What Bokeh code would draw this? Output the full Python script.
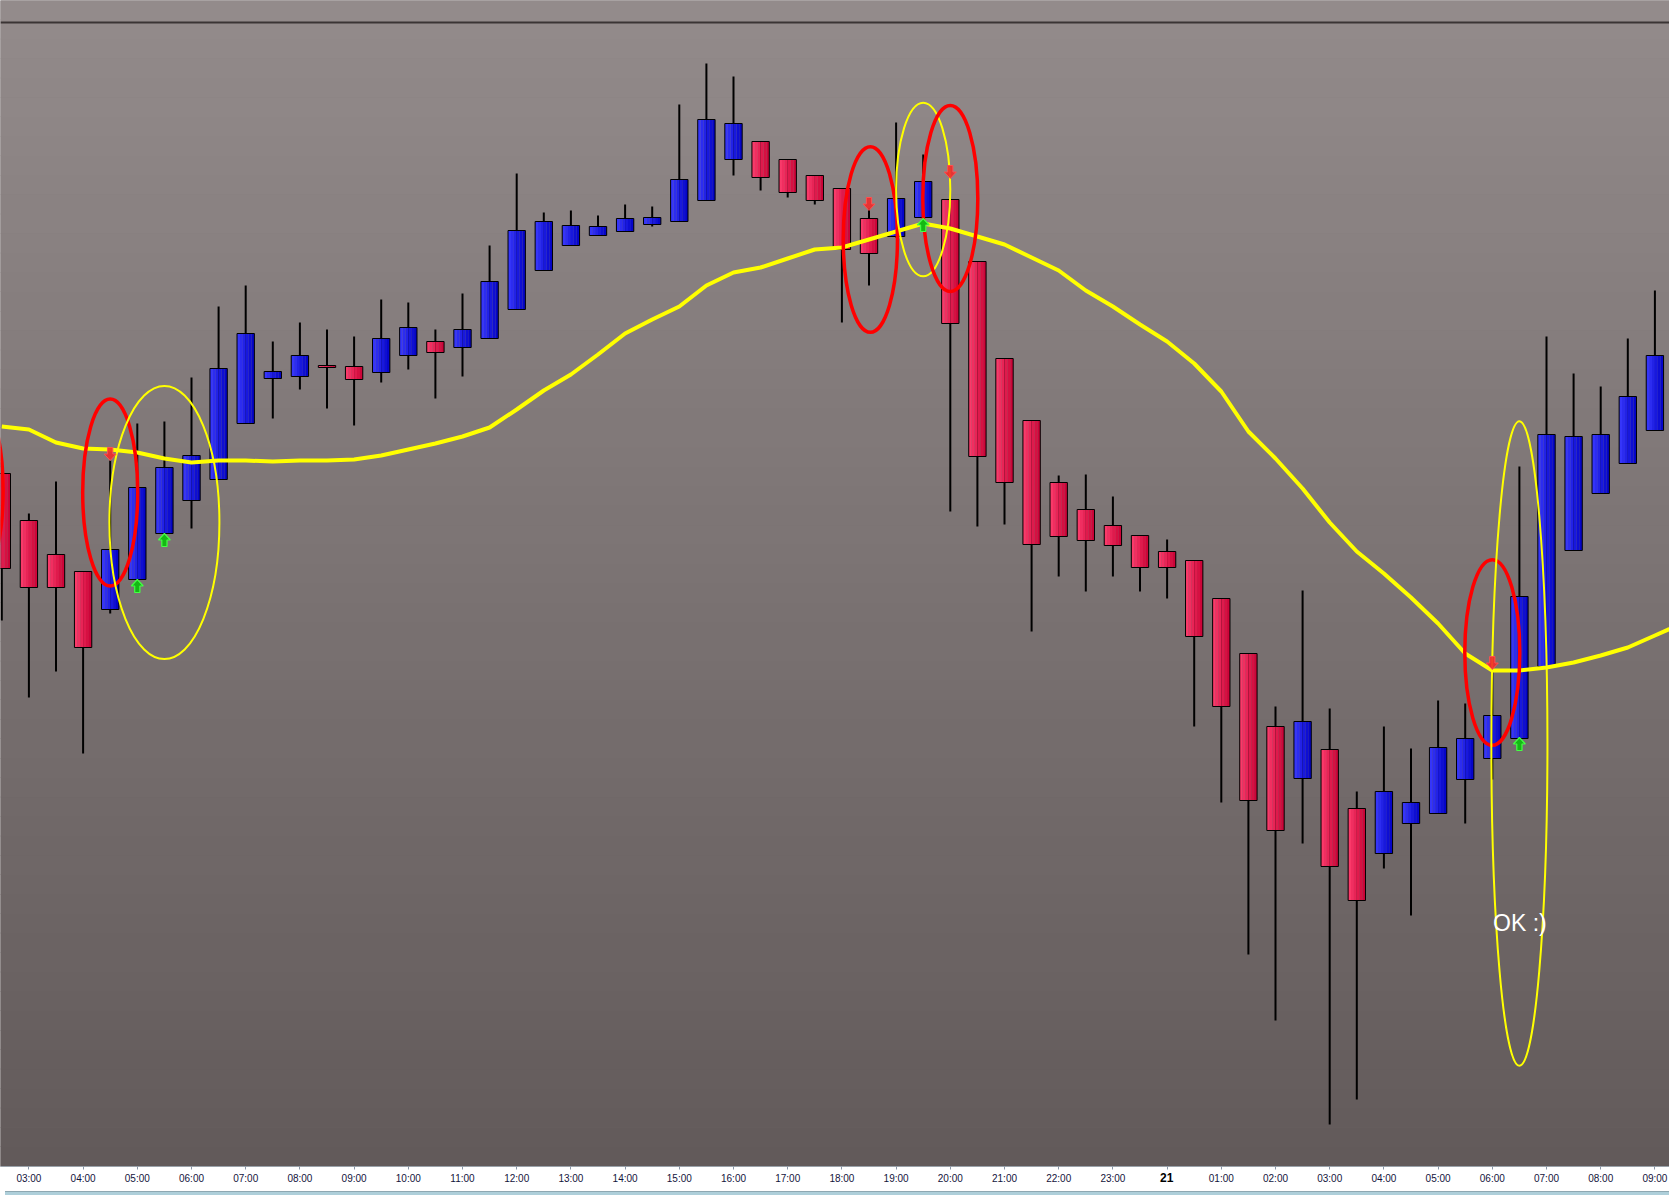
import numpy as np
from bokeh.plotting import figure
from bokeh.models import Range1d, FixedTicker, Label, Span, Div
from bokeh.layouts import column
from bokeh.embed import file_html
from bokeh.resources import INLINE

# 30-minute candles from the 20th 02:30 to the 21st 09:00 (index 0..61)
opens = [2127, 2080, 2046, 2029, 1991, 2021, 2067, 2100, 2121, 2177,
         2222, 2224, 2235, 2234, 2228, 2245, 2259, 2253, 2262, 2291,
         2330, 2355, 2365, 2369, 2376, 2379, 2400, 2441, 2459, 2441,
         2425, 2412, 2382, 2364, 2383, 2401, 2339, 2242, 2180, 2118,
         2091, 2075, 2065, 2049, 2040, 2002, 1947, 1874, 1822, 1851,
         1792, 1747, 1777, 1787, 1821, 1842, 1862, 1934, 2050, 2107,
         2137, 2170]
highs = [2138, 2087, 2119, 2029, 2140, 2177, 2179, 2223, 2294, 2315,
         2259, 2278, 2271, 2264, 2301, 2298, 2271, 2307, 2355, 2427,
         2388, 2390, 2385, 2396, 2394, 2496, 2537, 2524, 2459, 2441,
         2425, 2412, 2392, 2478, 2446, 2401, 2339, 2242, 2180, 2125,
         2126, 2104, 2065, 2061, 2040, 2002, 1947, 1894, 2010, 1892,
         1809, 1874, 1852, 1900, 1897, 1930, 2134, 2264, 2227, 2214,
         2262, 2310]
lows = [1980, 1903, 1929, 1847, 1987, 2019, 2065, 2072, 2121, 2177,
        2182, 2211, 2192, 2175, 2218, 2231, 2202, 2224, 2262, 2291,
        2330, 2355, 2365, 2369, 2374, 2379, 2400, 2425, 2410, 2403,
        2396, 2278, 2315, 2363, 2383, 2089, 2074, 2076, 1969, 2024,
        2009, 2024, 2009, 2002, 1874, 1798, 1646, 1580, 1757, 1476,
        1501, 1732, 1685, 1787, 1777, 1821, 1862, 1934, 2050, 2107,
        2137, 2170]
closes = [2032, 2013, 2013, 1953, 2051, 2113, 2133, 2145, 2232, 2267,
          2229, 2245, 2233, 2221, 2262, 2273, 2248, 2271, 2319, 2370,
          2379, 2375, 2374, 2382, 2383, 2421, 2481, 2477, 2423, 2408,
          2400, 2351, 2347, 2402, 2419, 2277, 2144, 2118, 2056, 2064,
          2060, 2055, 2033, 2033, 1964, 1894, 1800, 1770, 1879, 1734,
          1700, 1809, 1798, 1853, 1862, 1885, 2004, 2166, 2164, 2166,
          2204, 2245]

# moving average (one extra point just past the right edge)
ma = [2174, 2171, 2158, 2152, 2151, 2148, 2142, 2138, 2140, 2140,
      2139, 2140, 2140, 2141, 2145, 2151, 2157, 2164, 2173, 2191,
      2210, 2226, 2246, 2267, 2281, 2294, 2315, 2328, 2333, 2342,
      2351, 2353, 2361, 2369, 2377, 2372, 2364, 2356, 2343, 2330,
      2310, 2294, 2276, 2259, 2237, 2209, 2169, 2142, 2112, 2078,
      2049, 2027, 2003, 1977, 1947, 1930, 1930, 1933, 1938, 1945,
      1953, 1965, 1977]

# hourly ticks
tick_pos = list(range(1, 62, 2))
tick_labels = ["03:00", "04:00", "05:00", "06:00", "07:00", "08:00", "09:00",
               "10:00", "11:00", "12:00", "13:00", "14:00", "15:00", "16:00",
               "17:00", "18:00", "19:00", "20:00", "21:00", "22:00", "23:00",
               "21", "01:00", "02:00", "03:00", "04:00", "05:00", "06:00",
               "07:00", "08:00", "09:00"]
day_label = "21"

# signal arrows (candle index, price of arrow tip)
sell_idx = [4, 32, 35, 55]
sell_lvl = [2140, 2390, 2422, 1931]
buy_idx = [5, 6, 34, 56]
buy_lvl = [2021, 2067, 2382, 1863]

# hand-drawn ellipses: centre index, centre price, width (candles), height (price)
ell_x = [-0.95, 4.0, 6.0, 32.05, 34.0, 35.0, 55.0, 56.0]
ell_y = [2110, 2108, 2078, 2361, 2411, 2402, 1948, 1857]
ell_w = [2.0, 2.03, 4.06, 2.0, 2.0, 2.03, 2.03, 2.07]
ell_h = [186, 187, 273, 186, 174, 186, 186, 646]
ell_col = ["#ff0000", "#ff0000", "#ffff00", "#ff0000", "#ffff00", "#ff0000", "#ff0000", "#ffff00"]
ell_lw = [3.5, 3.5, 2, 3.5, 2, 3.5, 3.5, 2]

note_text = "OK :)"

# ---------------- layout ----------------
W = 1669
FRAME_H = 1166
AXIS_H = 20
STRIP_H = 9
H = FRAME_H + AXIS_H
PX_PER_BAR = 27.1
x_start = -1.3 / PX_PER_BAR
x_end = x_start + W / PX_PER_BAR
y_start = 1434
y_end = y_start + FRAME_H
ppx = (x_end - x_start) / W
ppy = (y_end - y_start) / FRAME_H

p = figure(width=W, height=H, x_range=Range1d(x_start, x_end), y_range=Range1d(y_start, y_end),
           output_backend="svg", toolbar_location=None, y_axis_location=None,
           min_border=0, min_border_bottom=AXIS_H,
           background_fill_color="#7a7272", border_fill_color="white", outline_line_color=None)
p.grid.visible = False

# vertical background gradient
top_c = np.array([0x93, 0x8b, 0x8b])
bot_c = np.array([0x62, 0x5a, 0x5a])
nb = 60
edges = np.linspace(y_start, y_end, nb + 1)
band_cols = []
for k in range(nb):
    t = (edges[k] + edges[k + 1]) / 2
    f = (t - y_start) / (y_end - y_start)
    c = bot_c + (top_c - bot_c) * f
    band_cols.append("#%02x%02x%02x" % tuple(int(round(v)) for v in c))
p.quad(left=-5, right=70, bottom=edges[:-1], top=edges[1:] + 0.5, fill_color=band_cols,
       line_color=None, level="underlay")

# separator line at the top
p.add_layout(Span(location=y_end - 22 * ppy, dimension="width", line_color="#3a3434", line_width=2))

idx = list(range(len(opens)))

# wicks
p.segment(x0=idx, y0=lows, x1=idx, y1=highs, line_color="black", line_width=2)

# bodies with horizontal gradient
BW = 0.64
NS = 6
blue_l, blue_r = np.array([0x3a, 0x3a, 0xff]), np.array([0x00, 0x00, 0xc4])
red_l, red_r = np.array([0xff, 0x3e, 0x6e]), np.array([0xc8, 0x00, 0x34])
L, R, B, T, C = [], [], [], [], []
for i in idx:
    up = closes[i] > opens[i]
    lo, hi = min(opens[i], closes[i]), max(opens[i], closes[i])
    cl, cr = (blue_l, blue_r) if up else (red_l, red_r)
    for k in range(NS):
        f = (k + 0.5) / NS
        c = cl + (cr - cl) * f
        L.append(i - BW / 2 + k * BW / NS)
        R.append(i - BW / 2 + (k + 1) * BW / NS + 0.002)
        B.append(lo)
        T.append(hi)
        C.append("#%02x%02x%02x" % tuple(int(round(v)) for v in c))
p.quad(left=L, right=R, bottom=B, top=T, fill_color=C, line_color=None)
p.quad(left=[i - BW / 2 for i in idx], right=[i + BW / 2 for i in idx],
       bottom=[min(o, c) for o, c in zip(opens, closes)],
       top=[max(o, c) for o, c in zip(opens, closes)],
       fill_color=None, line_color="black", line_width=1)

# moving average
p.line(x=list(range(len(ma))), y=ma, line_color="#ffff00", line_width=4)

# ellipses
p.ellipse(x=ell_x, y=ell_y, width=ell_w, height=ell_h, fill_color=None,
          line_color=ell_col, line_width=ell_lw)

# arrows (shape in pixels relative to the tip)
shape = [(0, 0), (6, -6.5), (2.6, -6.5), (2.6, -13), (-2.6, -13), (-2.6, -6.5), (-6, -6.5)]
bxs = [[i + dx * ppx for dx, dy in shape] for i in buy_idx]
bys = [[lv + dy * ppy for dx, dy in shape] for lv in buy_lvl]
p.patches(xs=bxs, ys=bys, fill_color="#14b814", line_color="#44ff44", line_width=1.2)
sxs = [[i + dx * ppx for dx, dy in shape] for i in sell_idx]
sys_ = [[lv - dy * ppy for dx, dy in shape] for lv in sell_lvl]
p.patches(xs=sxs, ys=sys_, fill_color="#f02a2a", fill_alpha=0.9, line_color="#ff5050", line_width=1)

# note
p.add_layout(Label(x=56.02, y=1678, text=note_text, text_color="white", text_font_size="23px",
                   text_font="Liberation Sans", text_align="center", text_baseline="middle"))

# x axis (the day marker is written in bold below, so it is blank here)
day_tick = tick_pos[tick_labels.index(day_label)]
ax = p.xaxis[0]
ax.ticker = FixedTicker(ticks=tick_pos)
ov = {t: lab for t, lab in zip(tick_pos, tick_labels)}
ov[day_tick] = ""
ax.major_label_overrides = ov
ax.major_label_text_font = "Liberation Sans"
ax.major_label_text_font_size = "10px"
ax.major_label_text_color = "#14143c"
ax.major_label_standoff = 3
ax.major_tick_out = 3
ax.major_tick_in = 0
ax.minor_tick_line_color = None
ax.major_tick_line_color = "#8a96a6"
ax.axis_line_color = "#9aa2aa"

# light blue status strip, carrying the bold day marker floated up into the axis row
day_px = (day_tick - x_start) / ppx
strip_html = ('<span style="position:relative; display:inline-block; left:%dpx; top:-22px; '
              'font-family:\'Liberation Sans\'; font-weight:bold; font-size:12px; color:black; '
              'line-height:12px; white-space:nowrap;">%s</span>') % (int(round(day_px - 12)), day_label)
strip = Div(text=strip_html, width=W, height=STRIP_H,
            styles={"background-color": "#aecfda", "border-top": "1px solid #8ea8b2",
                    "box-sizing": "border-box", "overflow": "visible"})
layout = column(p, strip, spacing=0)

open("out.html", "w").write(file_html(layout, INLINE))
